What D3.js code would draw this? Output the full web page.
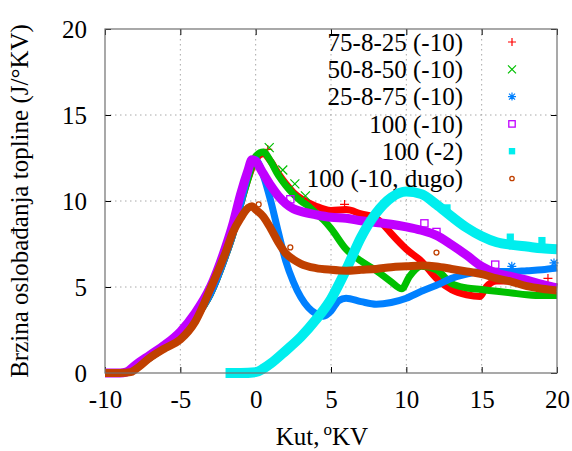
<!DOCTYPE html>
<html>
<head>
<meta charset="utf-8">
<script src="https://cdn.jsdelivr.net/npm/d3@7"></script>
<style>
  html, body { margin: 0; padding: 0; background: #fff; }
  svg { display: block; font-family: "Liberation Serif", "Times New Roman", "DejaVu Serif", serif; }
  svg text { font-family: "Liberation Serif", "Times New Roman", "DejaVu Serif", serif; }
</style>
</head>
<body>
<svg id="chart" width="572" height="451"></svg>
<script>
// ---------- data ----------
const xTicks = [-10, -5, 0, 5, 10, 15, 20];
const yTicks = [0, 5, 10, 15, 20];
const xLabel = "Kut,";
const yLabel = "Brzina oslobađanja topline (J/°KV)";
const seriesNames = ["75-8-25 (-10)", "50-8-50 (-10)", "25-8-75 (-10)", "100 (-10)", "100 (-2)", "100 (-10, dugo)"];

const redX = [-10, -9, -8.4, -8, -7, -6, -5, -4, -3, -2, -1.5, -1, -0.5, 0, 0.5, 1, 1.5, 2, 2.5, 3, 4, 5, 6, 7, 8, 8.5, 9, 10, 11, 12, 13, 14, 14.9, 15.3, 16, 17, 18, 19, 20];
const redY = [0, 0, 0.05, 0.3, 0.9, 1.5, 2.2, 3.2, 4.6, 6.8, 8.1, 9.8, 11.3, 12.4, 12.75, 12.3, 11.6, 11.0, 10.5, 10.15, 9.7, 9.45, 9.5, 9.25, 9.0, 8.6, 8.1, 7.2, 6.5, 5.5, 4.85, 4.55, 4.45, 5.0, 5.35, 5.35, 5.2, 5.1, 5.0];

const greenX = [-10, -9, -8.4, -8, -7, -6, -5, -4, -3, -2, -1.5, -1, -0.5, 0, 0.5, 1, 1.5, 2, 2.5, 3, 3.5, 4, 4.5, 5, 6, 7, 8, 9, 9.7, 10.2, 11, 12, 13, 14, 15, 16, 17, 18, 19, 20];
const greenY = [0, 0, 0.05, 0.3, 0.9, 1.5, 2.2, 3.2, 4.6, 6.8, 8.1, 9.8, 11.3, 12.6, 12.85, 12.3, 11.5, 10.9, 10.4, 10.0, 9.7, 9.3, 8.9, 8.4, 7.2, 6.5, 5.95, 5.3, 4.9, 5.6, 6.2, 6.0, 5.2, 4.95, 4.85, 4.75, 4.65, 4.55, 4.5, 4.5];

const blueX = [-10, -9, -8.4, -8, -7, -6, -5, -4, -3, -2, -1.5, -1, -0.5, -0.25, 0, 0.5, 1, 1.5, 2, 2.5, 3, 3.5, 4, 4.5, 5, 5.5, 6, 7, 8, 9, 10, 11, 12, 13, 14, 15, 16, 17, 18, 19, 20];
const blueY = [0, 0, 0.05, 0.3, 0.9, 1.5, 2.2, 3.2, 4.6, 6.8, 8.1, 9.8, 11.6, 12.4, 12.4, 11.5, 10.0, 8.2, 6.5, 5.3, 4.4, 3.8, 3.45, 3.3, 3.6, 4.2, 4.35, 4.15, 4.0, 4.1, 4.35, 4.75, 5.1, 5.5, 5.75, 5.9, 5.9, 5.9, 5.95, 6.0, 6.1];

const purpleX = [-10, -9, -8.6, -8, -7, -6, -5, -4, -3, -2, -1.5, -1, -0.5, -0.25, 0, 0.5, 1, 1.5, 2, 2.5, 3, 4, 5, 6, 7, 8, 9, 10, 11, 12, 13, 14, 15, 16, 17, 18, 19, 20];
const purpleY = [0, 0, 0.05, 0.45, 1.05, 1.65, 2.4, 3.5, 5.0, 7.3, 8.7, 10.4, 11.8, 12.4, 12.3, 11.6, 10.9, 10.3, 9.85, 9.55, 9.4, 9.2, 9.05, 9.0, 8.85, 8.75, 8.65, 8.5, 8.3, 8.0, 7.45, 6.85, 6.2, 5.8, 5.6, 5.4, 5.15, 4.95];

const cyanX = [-2, -1, 0, 0.5, 1, 2, 3, 4, 5, 6, 7, 8, 9, 10, 11, 12, 13, 14, 15, 16, 17, 18, 19, 20];
const cyanY = [0, 0, 0.05, 0.25, 0.55, 1.3, 2.1, 3.1, 4.3, 6.0, 7.9, 9.3, 10.2, 10.55, 10.4, 9.8, 9.1, 8.45, 7.95, 7.6, 7.45, 7.35, 7.25, 7.2];

const brownX = [-10, -9, -8.3, -8, -7, -6, -5, -4, -3, -2, -1.5, -1, -0.5, -0.25, 0, 0.5, 1, 1.5, 2, 2.5, 3, 4, 5, 6, 7, 8, 9, 10, 11, 12, 13, 14, 15, 16, 17, 18, 19, 20];
const brownY = [0, 0, 0.05, 0.2, 0.9, 1.45, 1.95, 3.0, 4.9, 7.0, 8.2, 9.0, 9.6, 9.7, 9.5, 9.1, 8.4, 7.6, 6.95, 6.6, 6.35, 6.1, 6.0, 5.95, 6.0, 6.05, 6.15, 6.2, 6.25, 6.2, 6.05, 5.9, 5.75, 5.5, 5.3, 5.05, 4.9, 4.8];

// a few stray points sticking out of the bands
const redStrayX = [5.9, 0.8, 19.4];
const redStrayY = [9.8, 13.0, 5.5];
const greenStrayX = [0.9, 1.8, 2.6, 3.3];
const greenStrayY = [13.1, 11.8, 11.0, 10.3];
const blueStrayX = [19.8, 17.0];
const blueStrayY = [6.4, 6.2];
const purpleStrayX = [2.3, 11.2, 12.0, 15.9];
const purpleStrayY = [10.1, 8.7, 8.2, 6.3];
const cyanStrayX = [12.7, 16.9, 19.0];
const cyanStrayY = [9.6, 7.9, 7.7];
const brownStrayX = [12.0, 2.3, 0.2];
const brownStrayY = [7.0, 7.3, 9.8];

// ---------- layout ----------
const FONT = "'Liberation Serif', 'Times New Roman', serif";
const svg = d3.select("#chart");
const L = 105, T = 29, R = 557, B = 373;
const x = d3.scaleLinear().domain([-10, 20]).range([L, R]);
const y = d3.scaleLinear().domain([0, 20]).range([B, T]);

const colors = ["#ff0000", "#00c000", "#0080ff", "#c000ff", "#00eeee", "#c04000"];
const symbols = ["plus", "cross", "star", "square", "fsquare", "circle"];
const widths = [7, 7, 7, 9, 10, 8];

// grid
const grid = svg.append("g");
xTicks.slice(1, -1).forEach(t => {
  grid.append("line").attr("x1", x(t)).attr("x2", x(t)).attr("y1", T).attr("y2", B)
    .attr("stroke", "#a8a8a8").attr("stroke-width", 1).attr("stroke-dasharray", "1.5,3.5");
});
yTicks.slice(1, -1).forEach(t => {
  grid.append("line").attr("x1", L).attr("x2", R).attr("y1", y(t)).attr("y2", y(t))
    .attr("stroke", "#a8a8a8").attr("stroke-width", 1).attr("stroke-dasharray", "1.5,3.5");
});

// axes (ticks inward, mirrored)
const fs = 25;
const fmt = d => String(d);
const axB = svg.append("g").attr("transform", `translate(0,${B})`)
  .call(d3.axisBottom(x).tickValues(xTicks).tickSize(-6).tickPadding(17).tickFormat(fmt));
const axT = svg.append("g").attr("transform", `translate(0,${T})`)
  .call(d3.axisTop(x).tickValues(xTicks).tickSize(-6).tickFormat(""));
const axL = svg.append("g").attr("transform", `translate(${L},0)`)
  .call(d3.axisLeft(y).tickValues(yTicks).tickSize(-6).tickPadding(18).tickFormat(fmt));
const axR = svg.append("g").attr("transform", `translate(${R},0)`)
  .call(d3.axisRight(y).tickValues(yTicks).tickSize(-6).tickFormat(""));
[axB, axT, axL, axR].forEach(a => {
  a.attr("font-family", FONT);
  a.select(".domain").remove();
  a.selectAll(".tick line").attr("stroke", "#000").attr("stroke-width", 1);
  a.selectAll("text").attr("font-family", FONT).attr("font-size", fs).attr("fill", "#000");
});
axB.selectAll("text").attr("dy", "0.71em");

// series
const xs = [redX, greenX, blueX, purpleX, cyanX, brownX];
const ys = [redY, greenY, blueY, purpleY, cyanY, brownY];
const sxs = [redStrayX, greenStrayX, blueStrayX, purpleStrayX, cyanStrayX, brownStrayX];
const sys = [redStrayY, greenStrayY, blueStrayY, purpleStrayY, cyanStrayY, brownStrayY];

const line = d3.line().x(d => x(d[0])).y(d => y(d[1])).curve(d3.curveMonotoneX);

function drawSymbol(g, type, cx, cy, color, s) {
  const h = s / 2;
  if (type === "plus") {
    g.append("path").attr("d", `M${cx - h},${cy}H${cx + h}M${cx},${cy - h}V${cy + h}`)
      .attr("stroke", color).attr("stroke-width", 1.2).attr("fill", "none");
  } else if (type === "cross") {
    g.append("path").attr("d", `M${cx - h},${cy - h}L${cx + h},${cy + h}M${cx - h},${cy + h}L${cx + h},${cy - h}`)
      .attr("stroke", color).attr("stroke-width", 1.2).attr("fill", "none");
  } else if (type === "star") {
    g.append("path").attr("d", `M${cx - h},${cy}H${cx + h}M${cx},${cy - h}V${cy + h}M${cx - h*0.75},${cy - h*0.75}L${cx + h*0.75},${cy + h*0.75}M${cx - h*0.75},${cy + h*0.75}L${cx + h*0.75},${cy - h*0.75}`)
      .attr("stroke", color).attr("stroke-width", 1.2).attr("fill", "none");
  } else if (type === "square") {
    g.append("rect").attr("x", cx - h * 0.8).attr("y", cy - h * 0.8).attr("width", s * 0.8).attr("height", s * 0.8)
      .attr("stroke", color).attr("stroke-width", 1.3).attr("fill", "none");
  } else if (type === "fsquare") {
    g.append("rect").attr("x", cx - h * 0.8).attr("y", cy - h * 0.8).attr("width", s * 0.8).attr("height", s * 0.8)
      .attr("fill", color);
  } else if (type === "circle") {
    g.append("circle").attr("cx", cx).attr("cy", cy).attr("r", h * 0.55)
      .attr("stroke", color).attr("stroke-width", 1.3).attr("fill", "none");
  }
}

const plot = svg.append("g");
seriesNames.forEach((name, i) => {
  const pts = xs[i].map((v, k) => [v, ys[i][k]]);
  plot.append("path").datum(pts).attr("d", line)
    .attr("fill", "none").attr("stroke", colors[i]).attr("stroke-width", widths[i])
    .attr("stroke-linejoin", "round").attr("stroke-linecap", "butt");
  sxs[i].forEach((v, k) => drawSymbol(plot, symbols[i], x(v), y(sys[i][k]), colors[i], 9));
});

// border
svg.append("rect").attr("x", L).attr("y", T).attr("width", R - L).attr("height", B - T)
  .attr("fill", "none").attr("stroke", "#707070").attr("stroke-width", 1.2);

// legend
const legend = svg.append("g");
seriesNames.forEach((name, i) => {
  const cy = 42 + i * 27.3;
  legend.append("text").attr("x", 463).attr("y", cy).attr("dy", "0.35em")
    .attr("text-anchor", "end").attr("font-family", FONT).attr("font-size", fs).attr("fill", "#000").text(name);
  drawSymbol(legend, symbols[i], 512, cy, colors[i], 8);
});

// axis labels
const xl = svg.append("text").attr("x", 322).attr("y", 445).attr("text-anchor", "middle")
  .attr("font-family", FONT).attr("font-size", fs).attr("fill", "#000");
xl.append("tspan").text(xLabel);
xl.append("tspan").attr("dx", 4).attr("dy", -10).attr("font-size", 17).text("o");
xl.append("tspan").attr("dy", 10).text("KV");

svg.append("text").attr("transform", `translate(28,${(T + B) / 2}) rotate(-90)`)
  .attr("text-anchor", "middle").attr("font-family", FONT).attr("font-size", fs).attr("fill", "#000").text(yLabel);
</script>
</body>
</html>
